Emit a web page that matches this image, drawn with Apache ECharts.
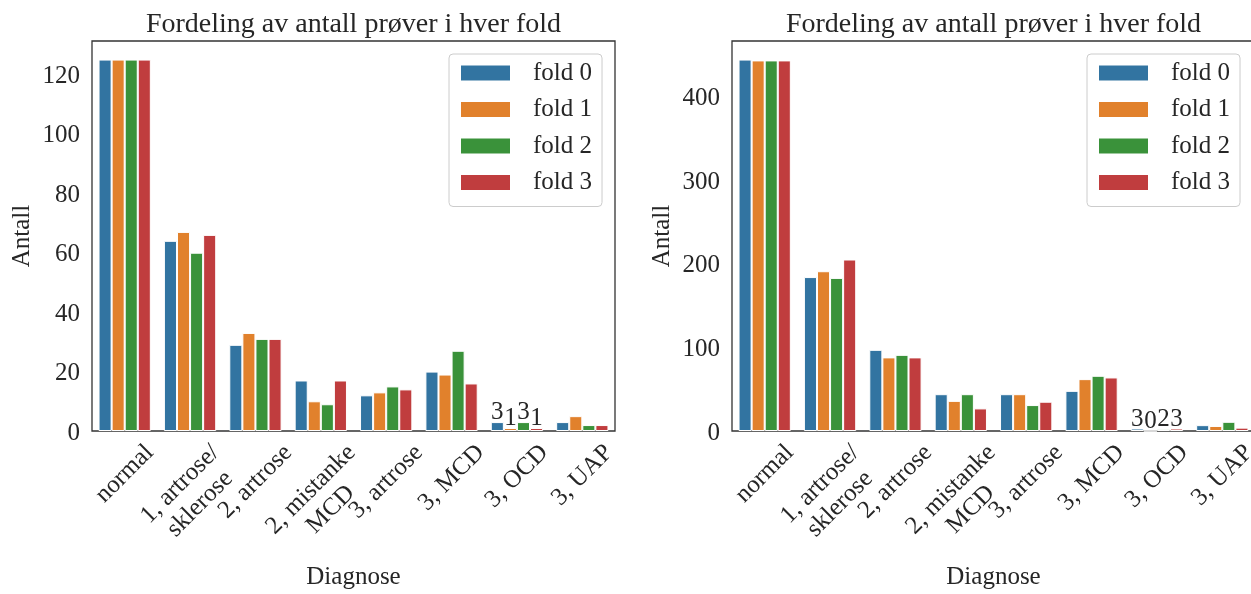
<!DOCTYPE html>
<html><head><meta charset="utf-8">
<script src="https://cdn.jsdelivr.net/npm/echarts@6/dist/echarts.min.js"></script>
<style>html,body{margin:0;padding:0;background:#fff}#c{width:1251px;height:594px}</style>
</head><body><div id="c"></div>
<script>
const categories = ['normal', '1, artrose/\nsklerose', '2, artrose', '2, mistanke\nMCD', '3, artrose', '3, MCD', '3, OCD', '3, UAP'];
const folds = ['fold 0', 'fold 1', 'fold 2', 'fold 3'];
const leftFold0 = [125, 64, 29, 17, 12, 20, 3, 3];
const leftFold1 = [125, 67, 33, 10, 13, 19, 1, 5];
const leftFold2 = [125, 60, 31, 9, 15, 27, 3, 2];
const leftFold3 = [125, 66, 31, 17, 14, 16, 1, 2];
const rightFold0 = [444, 184, 97, 44, 44, 48, 3, 7];
const rightFold1 = [443, 191, 88, 36, 44, 62, 0, 6];
const rightFold2 = [443, 183, 91, 44, 31, 66, 2, 11];
const rightFold3 = [443, 205, 88, 27, 35, 64, 3, 4];
const leftTicks = [0, 20, 40, 60, 80, 100, 120];
const rightTicks = [0, 100, 200, 300, 400];
const labelledCategory = '3, OCD';
const titleText = 'Fordeling av antall prøver i hver fold';
const xName = 'Diagnose';
const yName = 'Antall';

const colors = ['#3274a1', '#e1812c', '#3a923a', '#c03d3e'];
const FONT = '"Liberation Serif", "DejaVu Serif", serif';
const FS = 25;
const LH = 28;
const TXT = '#262626';

// rotated (45deg) labels centred under their tick, like matplotlib ha="center"
const ctx = document.createElement('canvas').getContext('2d');
ctx.font = FS + 'px "Liberation Serif"';
const xData = categories.map(c => {
  const lines = c.split('\n');
  const W = Math.max(...lines.map(l => ctx.measureText(l).width));
  const H = lines.length * LH;
  return {
    value: c,
    textStyle: {
      align: 'center', verticalAlign: 'top',
      padding: [Math.max(0, (W - H) / 4), (W + H) / 2, 0, 0]
    }
  };
});

const panels = [
  { left: 92, width: 523, data: [leftFold0, leftFold1, leftFold2, leftFold3], ticks: leftTicks, legendLeft: 449, titleShift: -5 },
  { left: 732, width: 523, data: [rightFold0, rightFold1, rightFold2, rightFold3], ticks: rightTicks, legendLeft: 1087, titleShift: -5 }
];

const option = {
  animation: false,
  textStyle: { fontFamily: FONT, color: TXT },
  title: [], grid: [], xAxis: [], yAxis: [], legend: [], series: []
};

panels.forEach((p, i) => {
  const maxV = Math.max(...p.data.flat()) * 1.05;
  option.title.push({
    text: titleText, left: p.left + p.width / 2 + p.titleShift, textAlign: 'center', top: 6,
    textStyle: { fontFamily: FONT, fontSize: 28, fontWeight: 'normal', color: TXT }
  });
  option.grid.push({
    left: p.left, top: 41, width: p.width, height: 390, show: true,
    outerBoundsMode: 'none',
    borderColor: '#333333', borderWidth: 1.3, backgroundColor: 'transparent', containLabel: false
  });
  option.xAxis.push({
    type: 'category', gridIndex: i, data: xData,
    axisLine: { show: false }, axisTick: { show: false },
    axisLabel: {
      interval: 0, rotate: 45, margin: 8,
      fontFamily: FONT, fontSize: FS, lineHeight: LH, color: TXT, hideOverlap: false
    },
    name: xName, nameLocation: 'middle', nameGap: 134, nameMoveOverlap: false,
    nameTextStyle: { fontFamily: FONT, fontSize: FS, color: TXT }
  });
  option.yAxis.push({
    type: 'value', gridIndex: i, min: 0, max: maxV, interval: p.ticks[1] - p.ticks[0],
    splitLine: { show: false }, axisLine: { show: false }, axisTick: { show: false },
    axisLabel: {
      margin: 12, fontFamily: FONT, fontSize: FS, color: TXT,
      verticalAlign: 'top', lineHeight: 4,
      formatter: v => p.ticks.includes(v) ? String(v) : ''
    },
    name: yName, nameLocation: 'middle', nameGap: 57, nameRotate: 90, nameMoveOverlap: false,
    nameTextStyle: { fontFamily: FONT, fontSize: FS, color: TXT }
  });
  option.legend.push({
    data: folds, orient: 'vertical', left: p.legendLeft, top: 54,
    itemWidth: 51, itemHeight: 17, itemGap: 11.5,
    padding: [6.5, 10, 11.5, 10],
    borderColor: '#cccccc', borderWidth: 1, borderRadius: 4, backgroundColor: '#ffffff',
    icon: 'rect',
    textStyle: { fontFamily: FONT, fontSize: FS, lineHeight: 25, color: TXT, padding: [0, 0, 0, 17] }
  });
  p.data.forEach((d, k) => {
    option.series.push({
      type: 'bar', name: folds[k], data: d, xAxisIndex: i, yAxisIndex: i,
      barGap: '0%', barCategoryGap: '20%',
      itemStyle: { color: colors[k], borderColor: '#ffffff', borderWidth: 1 },
      label: {
        show: true, position: 'top', distance: -3,
        fontFamily: FONT, fontSize: FS, color: TXT,
        formatter: q => categories[q.dataIndex] === labelledCategory ? String(q.value) : ''
      }
    });
  });
});

const chart = echarts.init(document.getElementById('c'), null, { renderer: 'canvas' });
chart.setOption(option);
</script></body></html>
